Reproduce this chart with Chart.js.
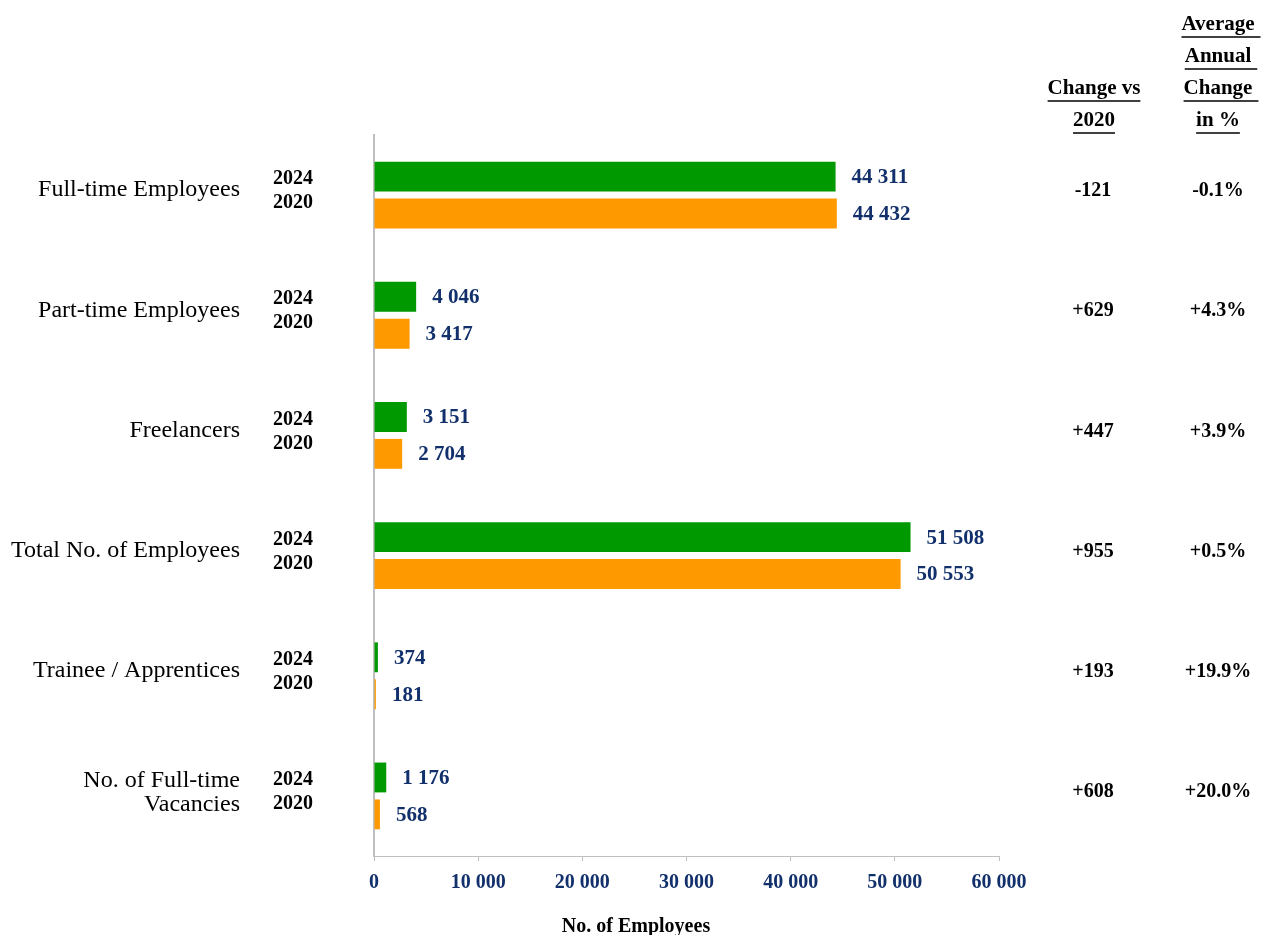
<!DOCTYPE html>
<html>
<head>
<meta charset="utf-8">
<script src="https://cdn.jsdelivr.net/npm/chart.js@4"></script>
<style>
  body { margin: 0; background: #fff; }
  #wrap { width: 1263px; height: 935px; }
</style>
</head>
<body>
<div id="wrap"><canvas id="employees-chart" width="1263" height="935"></canvas></div>
<script>
// chart data
const categories = ['Full-time Employees', 'Part-time Employees', 'Freelancers', 'Total No. of Employees', 'Trainee / Apprentices', ['No. of Full-time', 'Vacancies']];
const values2024 = [44311, 4046, 3151, 51508, 374, 1176];
const values2020 = [44432, 3417, 2704, 50553, 181, 568];
const changeVs2020 = ['-121', '+629', '+447', '+955', '+193', '+608'];
const avgAnnualChange = ['-0.1%', '+4.3%', '+3.9%', '+0.5%', '+19.9%', '+20.0%'];
const xTicks = [0, 10000, 20000, 30000, 40000, 50000, 60000];

const SERIF = '"Liberation Serif", "Times New Roman", serif';
const NAVY = '#12306b';
const GREEN = '#009900';
const ORANGE = '#ff9900';
const AXIS_GREY = '#bfbfbf';

// 44311 -> "44 311"
const formatNumber = (n) => String(n).replace(/\B(?=(\d{3})+(?!\d))/g, ' ');

// Side texts: category names, year labels, value labels, right-hand columns
const sideTextPlugin = {
    id: 'sideText',
    afterDatasetsDraw(chart) {
        const ctx = chart.ctx;
        const area = chart.chartArea;
        const yScale = chart.scales.y;
        ctx.save();
        ctx.textBaseline = 'middle';

        categories.forEach((cat, i) => {
            const y = yScale.getPixelForValue(i);

            // category name
            ctx.fillStyle = '#000';
            ctx.font = '24px ' + SERIF;
            ctx.textAlign = 'right';
            if (Array.isArray(cat)) {
                ctx.fillText(cat[0], area.left - 134, y - 15);
                ctx.fillText(cat[1], area.left - 134, y + 9);
            } else {
                ctx.fillText(cat, area.left - 134, y - 5);
            }

            // year labels
            ctx.font = 'bold 20px ' + SERIF;
            ctx.fillText('2024', area.left - 61, y - 16);
            ctx.fillText('2020', area.left - 61, y + 8);

            // right-hand columns
            ctx.textAlign = 'center';
            ctx.fillText(changeVs2020[i], area.right + 94, y - 4);
            ctx.fillText(avgAnnualChange[i], area.right + 219, y - 4);
        });

        // value labels next to bars
        ctx.font = 'bold 21px ' + SERIF;
        ctx.fillStyle = NAVY;
        ctx.textAlign = 'left';
        chart.data.datasets.forEach((ds, di) => {
            const meta = chart.getDatasetMeta(di);
            meta.data.forEach((bar, i) => {
                ctx.fillText(formatNumber(ds.data[i]), bar.x + 16, bar.y + 1);
            });
        });

        // underlined column headers
        ctx.fillStyle = '#000';
        ctx.strokeStyle = '#000';
        ctx.lineWidth = 1.5;
        ctx.textAlign = 'center';
        ctx.font = 'bold 21px ' + SERIF;
        const header = (text, cx, y, extra) => {
            const tw = ctx.measureText(text).width;
            ctx.fillText(text, cx, y);
            ctx.beginPath();
            ctx.moveTo(cx - tw / 2, y + 12);
            ctx.lineTo(cx + tw / 2 + (extra || 0), y + 12);
            ctx.stroke();
        };
        header('Change vs', area.right + 95, 89);
        header('2020', area.right + 95, 121);
        header('Average', area.right + 219, 25, 6);
        header('Annual', area.right + 219, 57, 6);
        header('Change', area.right + 219, 89, 6);
        header('in %', area.right + 219, 121);

        // x axis title
        ctx.font = 'bold 20px ' + SERIF;
        ctx.fillText('No. of Employees', area.left + 262, 927);
        ctx.restore();
    }
};

const ctx = document.getElementById('employees-chart').getContext('2d');
new Chart(ctx, {
    type: 'bar',
    data: {
        labels: categories,
        datasets: [
            { label: '2024', data: values2024, backgroundColor: GREEN },
            { label: '2020', data: values2020, backgroundColor: ORANGE },
        ],
    },
    options: {
        indexAxis: 'y',
        responsive: false,
        animation: false,
        categoryPercentage: 0.614,
        barPercentage: 0.81,
        layout: { padding: { left: 366, right: 264, top: 135, bottom: 30 } },
        plugins: {
            legend: { display: false },
            tooltip: { enabled: false },
        },
        scales: {
            x: {
                min: 0,
                max: 60000,
                afterBuildTicks: (scale) => { scale.ticks = xTicks.map(v => ({ value: v })); },
                ticks: {
                    callback: (v) => formatNumber(v),
                    color: NAVY,
                    font: { family: SERIF, size: 20, weight: 'bold' },
                    padding: 10,
                    maxRotation: 0,
                },
                grid: { drawOnChartArea: false, drawTicks: true, tickLength: 5, color: AXIS_GREY },
                border: { color: AXIS_GREY, width: 1 },
            },
            y: {
                ticks: { display: false },
                grid: { display: false },
                border: { color: AXIS_GREY, width: 2 },
            },
        },
    },
    plugins: [sideTextPlugin],
});
</script>
</body>
</html>
